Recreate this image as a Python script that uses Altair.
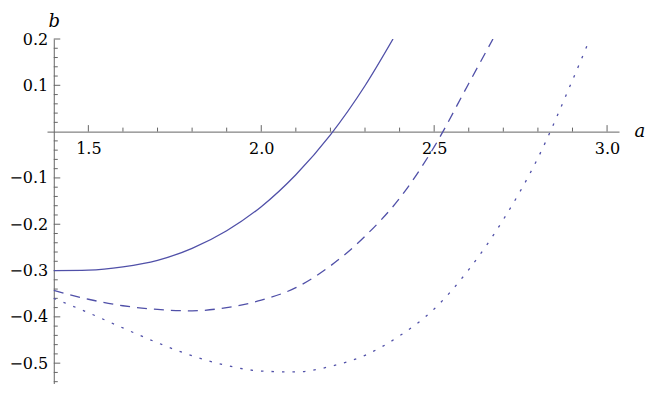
import altair as alt
import pandas as pd

# ---- data ----
A_SOLID = [1.40, 1.50, 1.60, 1.70, 1.80, 1.90, 2.00, 2.10, 2.20, 2.30, 2.381]
B_SOLID = [-0.300, -0.299, -0.292, -0.278, -0.252, -0.214, -0.162, -0.093, -0.007, 0.099, 0.200]

A_DASHED = [1.40, 1.50, 1.60, 1.70, 1.80, 1.90, 2.00, 2.10, 2.20, 2.30, 2.40, 2.50, 2.60, 2.67]
B_DASHED = [-0.343, -0.362, -0.376, -0.384, -0.387, -0.380, -0.364, -0.337, -0.290, -0.226,
            -0.144, -0.033, 0.104, 0.200]

A_DOTTED = [1.40, 1.50, 1.60, 1.70, 1.80, 1.90, 2.00, 2.10, 2.20, 2.30, 2.40, 2.50, 2.60,
            2.70, 2.80, 2.90, 2.95]
B_DOTTED = [-0.360, -0.391, -0.424, -0.456, -0.484, -0.505, -0.517, -0.519, -0.507, -0.483,
            -0.441, -0.383, -0.298, -0.190, -0.057, 0.111, 0.200]

X_MAJOR = [1.5, 2.0, 2.5, 3.0]
X_MINOR = [1.6, 1.7, 1.8, 1.9, 2.1, 2.2, 2.3, 2.4, 2.6, 2.7, 2.8, 2.9]
Y_MAJOR = [0.2, 0.1, -0.1, -0.2, -0.3, -0.4, -0.5]
Y_MINOR = [0.18, 0.16, 0.14, 0.12, 0.08, 0.06, 0.04, 0.02,
           -0.02, -0.04, -0.06, -0.08, -0.12, -0.14, -0.16, -0.18,
           -0.22, -0.24, -0.26, -0.28, -0.32, -0.34, -0.36, -0.38,
           -0.42, -0.44, -0.46, -0.48, -0.52, -0.54]

X_DOMAIN = [1.3804, 3.0345]
Y_DOMAIN = [-0.545, 0.2]
ORIGIN_A = 1.4
ORIGIN_B = 0.0

# ---- layout / style ----
W, H = 572, 345
SERIF = "DejaVu Serif"
LABEL_SIZE = 16
TITLE_SIZE = 18
LINE_COLOR = "#5050a8"
AXIS_COLOR = "#666666"
MAJOR_LEN, MINOR_LEN = 6.5, 4.0

px_x = W / (X_DOMAIN[1] - X_DOMAIN[0])
px_y = H / (Y_DOMAIN[1] - Y_DOMAIN[0])
x_axis_offset = -(H - (Y_DOMAIN[1] - ORIGIN_B) * px_y)
y_axis_offset = -((ORIGIN_A - X_DOMAIN[0]) * px_x)

xscale = alt.Scale(domain=X_DOMAIN, nice=False, zero=False)
yscale = alt.Scale(domain=Y_DOMAIN, nice=False, zero=False)

xaxis = alt.Axis(
    values=X_MAJOR, format=".1f", ticks=False, tickSize=0, grid=False,
    domainColor=AXIS_COLOR, domainWidth=1,
    labelFont=SERIF, labelFontSize=LABEL_SIZE, labelColor="black", labelPadding=9,
    labelFlush=False, labelOverlap=False, offset=x_axis_offset,
    title="a", titleFont=SERIF, titleFontStyle="italic", titleFontWeight="normal",
    titleFontSize=TITLE_SIZE, titleColor="black", titleX=W + 15, titleY=0,
    titleAlign="left", titleBaseline="middle", titleAngle=0,
)
yaxis = alt.Axis(
    values=Y_MAJOR, format=".1f", ticks=False, tickSize=0, grid=False,
    domainColor=AXIS_COLOR, domainWidth=1,
    labelFont=SERIF, labelFontSize=LABEL_SIZE, labelColor="black", labelPadding=6,
    labelFlush=False, labelOverlap=False, offset=y_axis_offset,
    title="b", titleFont=SERIF, titleFontStyle="italic", titleFontWeight="normal",
    titleFontSize=TITLE_SIZE, titleColor="black", titleX=0, titleY=-13,
    titleAlign="center", titleBaseline="alphabetic", titleAngle=0,
)


def curve(a_vals, b_vals, dash):
    df = pd.DataFrame({"a": a_vals, "b": b_vals})
    mark_kw = dict(color=LINE_COLOR, strokeWidth=1.3, interpolate="monotone", clip=True)
    if dash:
        mark_kw["strokeDash"] = dash
    return alt.Chart(df).mark_line(**mark_kw).encode(
        x=alt.X("a:Q", scale=xscale, axis=xaxis),
        y=alt.Y("b:Q", scale=yscale, axis=yaxis),
        order="a:Q",
    )


def xticks(vals, length):
    df = pd.DataFrame({"a": vals, "b0": [ORIGIN_B] * len(vals),
                       "b1": [ORIGIN_B + length / px_y] * len(vals)})
    return alt.Chart(df).mark_rule(color=AXIS_COLOR, strokeWidth=1).encode(
        x=alt.X("a:Q", scale=xscale, axis=xaxis),
        y=alt.Y("b0:Q", scale=yscale, axis=yaxis),
        y2="b1:Q",
    )


def yticks(vals, length):
    df = pd.DataFrame({"b": vals, "a0": [ORIGIN_A] * len(vals),
                       "a1": [ORIGIN_A + length / px_x] * len(vals)})
    return alt.Chart(df).mark_rule(color=AXIS_COLOR, strokeWidth=1).encode(
        x=alt.X("a0:Q", scale=xscale, axis=xaxis),
        x2="a1:Q",
        y=alt.Y("b:Q", scale=yscale, axis=yaxis),
    )


chart = alt.layer(
    xticks(X_MAJOR, MAJOR_LEN),
    xticks(X_MINOR, MINOR_LEN),
    yticks(Y_MAJOR, MAJOR_LEN),
    yticks(Y_MINOR, MINOR_LEN),
    curve(A_SOLID, B_SOLID, None),
    curve(A_DASHED, B_DASHED, [10, 7]),
    curve(A_DOTTED, B_DOTTED, [2.5, 8]),
).properties(
    width=W, height=H,
    autosize=alt.AutoSizeParams(type="none"),
    padding={"left": 39, "top": 31, "right": 27, "bottom": 0},
    background="white",
).configure_view(stroke=None)

chart.save("out.html", embed_options={"renderer": "svg", "actions": False})
